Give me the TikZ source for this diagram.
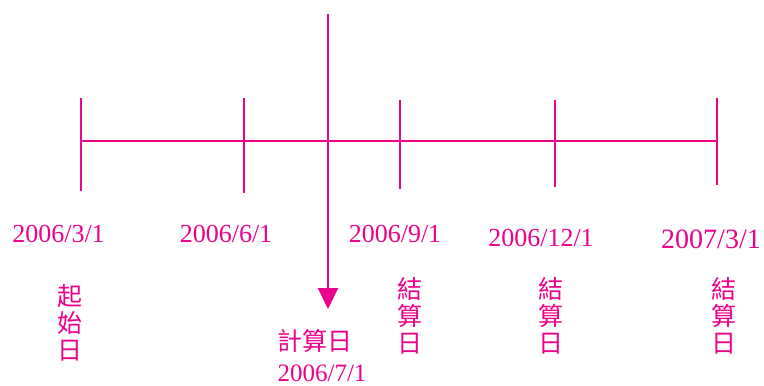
\documentclass[tikz,border=0pt]{standalone}
\usepackage{fontspec}
\setmainfont{Liberation Serif}
\newfontfamily\cjk{Noto Sans CJK TC}
\usetikzlibrary{arrows.meta}
\definecolor{mag}{RGB}{236,0,140}
\tikzset{
  axisline/.style={draw=mag,line width=2pt},
  tickline/.style={draw=mag,line width=2pt},
  datelbl/.style={text=mag,inner sep=0pt,font=\fontsize{26}{28}\selectfont},
  cjklbl/.style={text=mag,inner sep=0pt,align=center,font=\cjk\fontsize{25}{27}\selectfont},
}
\begin{document}
\begin{tikzpicture}[x=1pt,y=-1pt]
\useasboundingbox (0,0) rectangle (764,386);
% axis ends and tick positions
\coordinate (a0) at (81,141);
\coordinate (a1) at (244,141);
\coordinate (a2) at (400,141);
\coordinate (a3) at (555,141);
\coordinate (a4) at (717,141);
\draw[axisline] (a0) -- (a4);
% ticks
\draw[tickline] (81,98) -- (81,191);
\draw[tickline] (244,98) -- (244,193);
\draw[tickline] (400,100) -- (400,189);
\draw[tickline] (555,100) -- (555,187);
\draw[tickline] (717,98) -- (717,185);
% calculation day arrow
\coordinate (ctop) at (328,14);
\coordinate (ctip) at (328,309);
\draw[tickline,-{Triangle[width=20pt,length=21pt]}] (ctop) -- (ctip);
% date labels
\node[datelbl] (d1) at (58.5,234) {2006/3/1};
\node[datelbl] (d2) at (226,234) {2006/6/1};
\node[datelbl] (d3) at (395,234) {2006/9/1};
\node[datelbl] (d4) at (541,238) {2006/12/1};
\node[datelbl,font=\fontsize{28}{30}\selectfont] (d5) at (711,239) {2007/3/1};
\node[datelbl,font=\fontsize{25}{27}\selectfont] (d6) at (322,373) {2006/7/1};
% CJK labels
\node[cjklbl] (s1) at (70,323) {起\\始\\日};
\node[cjklbl] (s2) at (410,316) {結\\算\\日};
\node[cjklbl] (s3) at (551,316) {結\\算\\日};
\node[cjklbl] (s4) at (724,316) {結\\算\\日};
\node[cjklbl] (c1) at (314.5,341) {計算日};
\end{tikzpicture}
\end{document}
